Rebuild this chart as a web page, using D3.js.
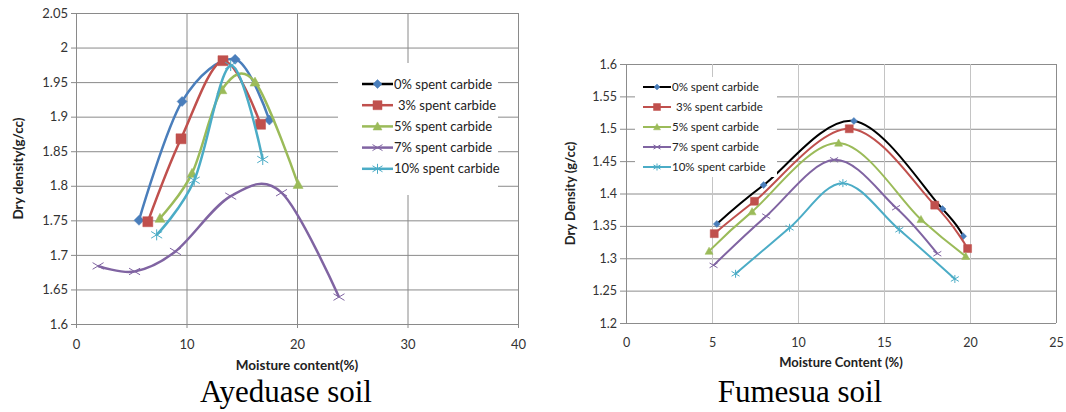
<!DOCTYPE html>
<html>
<head>
<meta charset="utf-8">
<script src="https://cdn.jsdelivr.net/npm/d3@7"></script>
<style>
body { margin: 0; background: #fff; }
text { font-family: Lato, "Open Sans", sans-serif; }
</style>
</head>
<body>
<div id="chart"></div>
<script>
// series shared by both soils
const seriesNames = ['0% spent carbide', '3% spent carbide', '5% spent carbide', '7% spent carbide', '10% spent carbide'];
const seriesColors = ['#4a7ebb', '#c0504d', '#9bbb59', '#8064a2', '#4bacc6'];
const markerShapes = ['diamond', 'square', 'triangle', 'cross', 'star'];

// Ayeduase soil
const ayeMoisture = [
    [5.7, 9.6, 14.4, 17.5],
    [6.5, 9.5, 13.3, 16.7],
    [7.6, 10.5, 13.2, 16.2, 20.1],
    [2.0, 5.3, 9.0, 14.0, 18.6, 23.8],
    [7.3, 10.7, 14.0, 16.9]
];
const ayeDensity = [
    [1.750, 1.922, 1.983, 1.895],
    [1.748, 1.868, 1.981, 1.889],
    [1.753, 1.818, 1.939, 1.950, 1.802],
    [1.684, 1.676, 1.705, 1.785, 1.790, 1.639],
    [1.729, 1.808, 1.974, 1.838]
];
const ayeXTicks = [0, 10, 20, 30, 40];
const ayeYTicks = [1.6, 1.65, 1.7, 1.75, 1.8, 1.85, 1.9, 1.95, 2, 2.05];

// Fumesua soil
const fumMoisture = [
    [5.28, 8.0, 13.25, 18.4, 19.6],
    [5.13, 7.47, 12.98, 17.95, 19.86],
    [4.83, 7.33, 12.36, 17.15, 19.75],
    [5.09, 8.15, 12.1, 15.7, 18.1],
    [6.37, 9.51, 12.61, 15.89, 19.12]
];
const fumDensity = [
    [1.353, 1.413, 1.512, 1.376, 1.334],
    [1.338, 1.388, 1.500, 1.382, 1.315],
    [1.311, 1.372, 1.478, 1.360, 1.303],
    [1.289, 1.365, 1.452, 1.378, 1.307],
    [1.276, 1.347, 1.416, 1.344, 1.268]
];
const fumXTicks = [0, 5, 10, 15, 20, 25];
const fumYTicks = [1.2, 1.25, 1.3, 1.35, 1.4, 1.45, 1.5, 1.55, 1.6];

const svg = d3.select('#chart').append('svg')
    .attr('width', 1066)
    .attr('height', 412);
svg.append('rect').attr('width', 1066).attr('height', 412).attr('fill', '#fff');

function markerPath(shape, s) {
    const h = s / 2;
    if (shape === 'diamond') return `M0,${-h}L${h},0L0,${h}L${-h},0Z`;
    if (shape === 'square') return `M${-h},${-h}H${h}V${h}H${-h}Z`;
    if (shape === 'triangle') return `M0,${-h}L${h},${h * 0.8}L${-h},${h * 0.8}Z`;
    if (shape === 'cross') return `M${-h},${-h * 0.6}L${h},${h * 0.6}M${-h},${h * 0.6}L${h},${-h * 0.6}`;
    // asterisk
    return `M${-h},${-h * 0.6}L${h},${h * 0.6}M${-h},${h * 0.6}L${h},${-h * 0.6}M0,${-h}V${h}`;
}

function drawMarker(g, shape, color, size, px, py) {
    const stroked = shape === 'cross' || shape === 'star';
    g.append('path')
        .attr('transform', `translate(${px},${py})`)
        .attr('d', markerPath(shape, size))
        .attr('fill', stroked ? 'none' : color)
        .attr('stroke', color)
        .attr('stroke-width', stroked ? 1 : 0.5);
}

function drawPanel(cfg) {
    const xScale = d3.scaleLinear().domain(cfg.xDomain).range([cfg.left, cfg.right]);
    const yScale = d3.scaleLinear().domain(cfg.yDomain).range([cfg.bottom, cfg.top]);
    const g = svg.append('g');
    const fmt = (d) => String(+d.toFixed(2));

    // horizontal grid + y labels
    const yAxis = d3.axisLeft(yScale).tickValues(cfg.yTicks).tickFormat(fmt)
        .tickSize(-(cfg.right - cfg.left)).tickSizeOuter(0);
    const yAxisG = g.append('g')
        .attr('transform', `translate(${cfg.left},0)`)
        .call(yAxis);
    yAxisG.select('.domain').remove();
    yAxisG.selectAll('.tick line')
        .attr('x1', -cfg.yTick)
        .attr('stroke', cfg.hGrid);
    yAxisG.selectAll('.tick text')
        .attr('x', -cfg.yTick - 3)
        .attr('font-size', cfg.tickFont)
        .attr('fill', '#333')
        .style('font-family', 'Lato, sans-serif');

    // vertical grid + x labels
    const xAxis = d3.axisBottom(xScale).tickValues(cfg.xTicks)
        .tickSize(-(cfg.bottom - cfg.top)).tickSizeOuter(0);
    const xAxisG = g.append('g')
        .attr('transform', `translate(0,${cfg.bottom})`)
        .call(xAxis);
    xAxisG.select('.domain').remove();
    xAxisG.selectAll('.tick line')
        .attr('y1', cfg.xTick)
        .attr('stroke', (d, i) => (i === 0 || i === cfg.xTicks.length - 1) ? cfg.hGrid : cfg.vGrid);
    xAxisG.selectAll('.tick text')
        .attr('y', cfg.xLabelY)
        .attr('font-size', cfg.tickFont)
        .attr('fill', '#333')
        .style('font-family', 'Lato, sans-serif');

    // series
    cfg.moisture.forEach((xs, i) => {
        const pts = xs.map((m, j) => ({ x: m, y: cfg.density[i][j] }));
        g.append('path')
            .datum(pts)
            .attr('fill', 'none')
            .attr('stroke', i === 0 ? cfg.firstLine : seriesColors[i])
            .attr('stroke-width', cfg.lineWidth)
            .attr('stroke-linejoin', 'round')
            .attr('d', d3.line()
                .x(d => xScale(d.x))
                .y(d => yScale(d.y))
                .curve(d3.curveCardinal.tension(0)));
        pts.forEach(p => {
            drawMarker(g, markerShapes[i], seriesColors[i], cfg.markerSize[i], xScale(p.x), yScale(p.y));
        });
    });

    // legend
    const lg = g.append('g');
    lg.append('rect')
        .attr('x', cfg.legend.x).attr('y', cfg.legend.y)
        .attr('width', cfg.legend.w).attr('height', cfg.legend.h)
        .attr('fill', '#fff');
    seriesNames.forEach((name, i) => {
        const ly = cfg.legend.rowY + i * cfg.legend.step;
        lg.append('line')
            .attr('x1', cfg.legend.lineX).attr('x2', cfg.legend.lineX + cfg.legend.lineW)
            .attr('y1', ly).attr('y2', ly)
            .attr('stroke', i === 0 ? '#000' : seriesColors[i])
            .attr('stroke-width', cfg.lineWidth);
        drawMarker(lg, markerShapes[i], seriesColors[i], cfg.markerSize[i] - 1,
            cfg.legend.lineX + cfg.legend.lineW / 2, ly);
        lg.append('text')
            .attr('x', cfg.legend.lineX + cfg.legend.lineW + 1 + (i === 1 ? 4 : 0))
            .attr('y', ly)
            .attr('dy', '0.35em')
            .attr('font-size', cfg.legend.font)
            .attr('fill', '#222')
            .text(name);
    });

    // axis titles
    g.append('text')
        .attr('x', (cfg.left + cfg.right) / 2)
        .attr('y', cfg.xTitleY)
        .attr('text-anchor', 'middle')
        .attr('font-size', cfg.titleFont)
        .attr('font-weight', 'bold')
        .attr('fill', '#222')
        .text(cfg.xTitle);
    g.append('text')
        .attr('transform', `translate(${cfg.yTitleX},${(cfg.top + cfg.bottom) / 2}) rotate(-90)`)
        .attr('text-anchor', 'middle')
        .attr('dy', '0.35em')
        .attr('font-size', cfg.titleFont)
        .attr('font-weight', 'bold')
        .attr('fill', '#222')
        .text(cfg.yTitle);

    // soil caption
    g.append('text')
        .attr('x', cfg.captionX)
        .attr('y', 402)
        .attr('text-anchor', 'middle')
        .attr('font-size', 31)
        .attr('fill', '#000')
        .style('font-family', '"Liberation Serif", "Times New Roman", serif')
        .text(cfg.caption);
}

drawPanel({
    left: 76, right: 518, top: 13, bottom: 324,
    xDomain: [0, 40], yDomain: [1.6, 2.05],
    xTicks: ayeXTicks, yTicks: ayeYTicks,
    moisture: ayeMoisture, density: ayeDensity,
    hGrid: '#8a8a8a', vGrid: '#8a8a8a',
    yTick: 5, xTick: 4, xLabelY: 16,
    tickFont: 13, titleFont: 13.5,
    lineWidth: 2.5, firstLine: seriesColors[0],
    markerSize: [10, 10, 10, 11, 11],
    legend: { x: 338, y: 63, w: 160, h: 132, rowY: 84, step: 21.2, lineX: 362, lineW: 31, font: 13 },
    xTitle: 'Moisture content(%)', xTitleY: 370,
    yTitle: 'Dry density(g/cc)', yTitleX: 18,
    caption: 'Ayeduase soil', captionX: 286
});

drawPanel({
    left: 626, right: 1056, top: 64, bottom: 323,
    xDomain: [0, 25], yDomain: [1.2, 1.6],
    xTicks: fumXTicks, yTicks: fumYTicks,
    moisture: fumMoisture, density: fumDensity,
    hGrid: '#8c8c8c', vGrid: '#c4c4c4',
    yTick: 6, xTick: 0, xLabelY: 15,
    tickFont: 12.5, titleFont: 13,
    lineWidth: 2, firstLine: '#000',
    markerSize: [7, 8, 8, 8, 8],
    legend: { x: 635, y: 77, w: 142, h: 100, rowY: 87, step: 20, lineX: 643, lineW: 28, font: 11.5 },
    xTitle: 'Moisture Content (%)', xTitleY: 367,
    yTitle: 'Dry Density (g/cc)', yTitleX: 570,
    caption: 'Fumesua soil', captionX: 800
});
</script>
</body>
</html>
